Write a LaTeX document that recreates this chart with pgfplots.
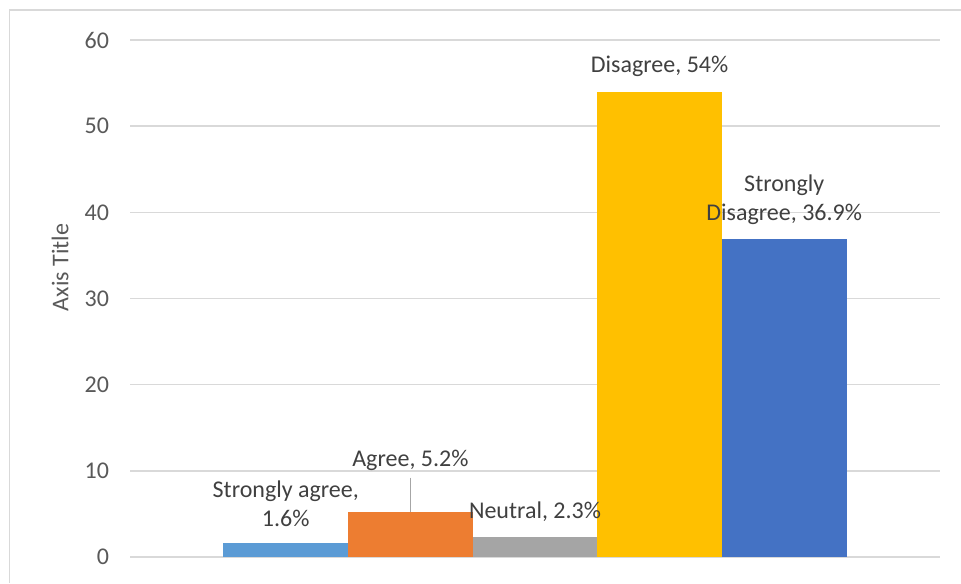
\documentclass[border=0pt]{standalone}
\usepackage{fontspec}
\setmainfont{Carlito}
\usepackage{pgfplots}
\pgfplotsset{compat=1.18}
\definecolor{c1}{HTML}{5B9BD5}
\definecolor{c2}{HTML}{ED7D31}
\definecolor{c3}{HTML}{A5A5A5}
\definecolor{c4}{HTML}{FFC000}
\definecolor{c5}{HTML}{4472C4}
\definecolor{gridgray}{HTML}{D9D9D9}
\definecolor{tickgray}{HTML}{595959}
\definecolor{labgray}{HTML}{404040}
\definecolor{leadgray}{HTML}{A6A6A6}
\begin{document}
\begin{tikzpicture}[x=1pt,y=1pt]
\path[use as bounding box] (0,0) rectangle (480.5,291.5);
\draw[gridgray, line width=0.75pt] (4.75,0) -- (4.75,286.5) -- (480.5,286.5);
\begin{axis}[
  at={(65pt,13pt)}, anchor=south west,
  scale only axis, width=405pt, height=258.5pt,
  xmin=-3.25, xmax=3.25, ymin=0, ymax=60,
  ytick={0,10,20,30,40,50,60}, xtick=\empty,
  ymajorgrids, grid style={gridgray, line width=0.75pt},
  axis line style={draw=none},
  major tick length=0pt, tick style={draw=none},
  /pgf/number format/assume math mode=true,
  yticklabel style={font=\fontsize{12}{14.5}\selectfont, text=tickgray, xshift=-7pt},
  ylabel={Axis Title},
  ylabel style={font=\fontsize{12}{14.5}\selectfont, text=tickgray, at={(axis description cs:-0.0864,0.56)}, anchor=center},
  clip=false,
]
\addplot[ybar, bar width=1, bar shift=0pt, fill=c1, draw=none] coordinates {(-2,1.6)};
\addplot[ybar, bar width=1, bar shift=0pt, fill=c2, draw=none] coordinates {(-1,5.2)};
\addplot[ybar, bar width=1, bar shift=0pt, fill=c3, draw=none] coordinates {(0,2.3)};
\addplot[ybar, bar width=1, bar shift=0pt, fill=c4, draw=none] coordinates {(1,54)};
\addplot[ybar, bar width=1, bar shift=0pt, fill=c5, draw=none] coordinates {(2,36.9)};
\draw[leadgray, line width=0.6pt] (axis cs:-1,9.2) -- (axis cs:-1,5.2);
\begin{scope}[every node/.style={font=\fontsize{12}{14.5}\selectfont, text=labgray, align=center, inner sep=0pt}]
\node at (axis cs:-2,6.21) {Strongly agree,\\1.6\%};
\node at (axis cs:-1,11.26) {Agree, 5.2\%};
\node at (axis cs:0,5.22) {Neutral, 2.3\%};
\node at (axis cs:1,56.98) {Disagree, 54\%};
\node at (axis cs:2,41.49) {Strongly\\Disagree, 36.9\%};
\end{scope}
\end{axis}
\end{tikzpicture}
\end{document}
